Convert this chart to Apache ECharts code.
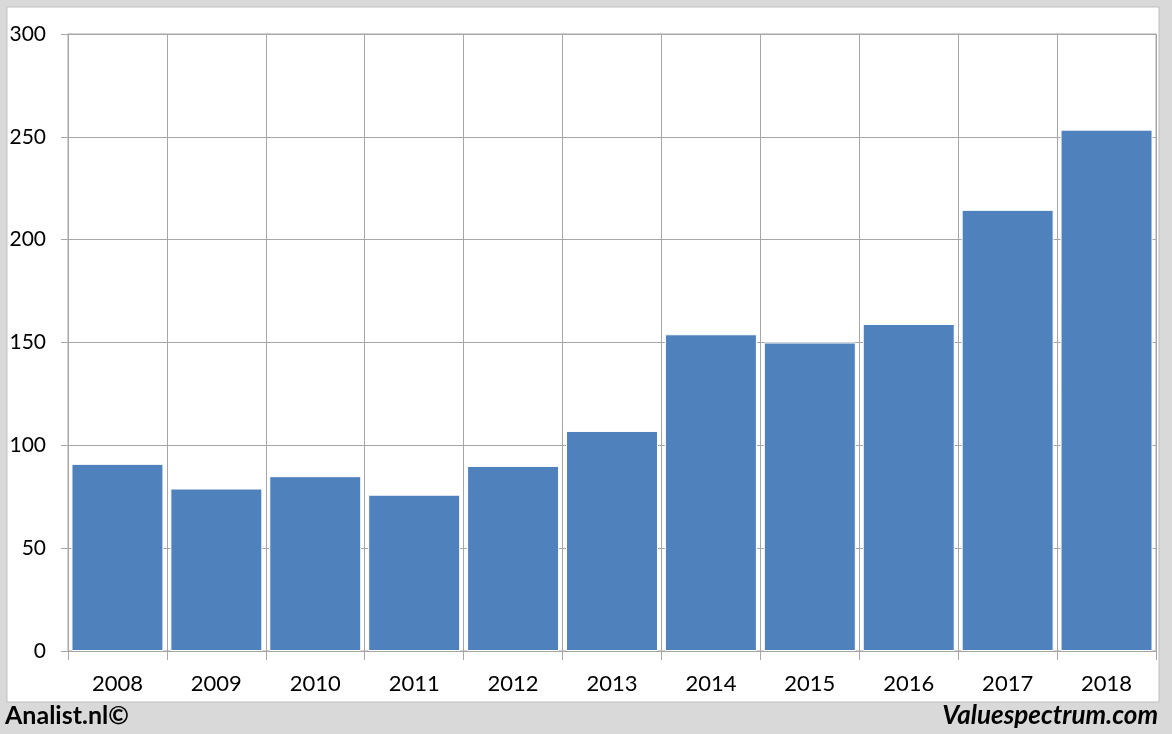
<!DOCTYPE html>
<html>
<head>
<meta charset="utf-8">
<script src="https://cdn.jsdelivr.net/npm/echarts@6/dist/echarts.min.js"></script>
<style>
html,body{margin:0;padding:0;background:#d9d9d9;}
#c{width:1172px;height:734px;}
</style>
</head>
<body>
<div id="c"></div>
<script>
const categories = ['2008','2009','2010','2011','2012','2013','2014','2015','2016','2017','2018'];
const values = [91, 79, 85, 76, 90, 107, 154, 150, 159, 214.5, 253.5];
const yTicks = { min: 0, max: 300, interval: 50 };
const footerLeft = 'Analist.nl©';
const footerRight = 'Valuespectrum.com';

const chart = echarts.init(document.getElementById('c'), null, { renderer: 'canvas' });
const gridColor = '#a6a6a6';
const font = 'Lato, "Open Sans", sans-serif';
chart.setOption({
  backgroundColor: '#d9d9d9',
  animation: false,
  graphic: [
    { type: 'rect', z: -10, shape: { x: 7, y: 7, width: 1152, height: 695 },
      style: { fill: '#ffffff', stroke: '#bfbfbf', lineWidth: 1 } },
    { type: 'text', left: 5, top: 703,
      style: { text: footerLeft, font: 'bold 25px ' + font, fill: '#000' } },
    { type: 'text', right: 14, top: 703,
      style: { text: footerRight, font: 'italic bold 26px ' + font, fill: '#000' } }
  ],
  grid: { left: 68, right: 16, top: 34, bottom: 83, show: true, borderColor: gridColor, borderWidth: 1, backgroundColor: 'transparent' },
  xAxis: {
    type: 'category',
    data: categories,
    boundaryGap: true,
    axisLine: { show: true, lineStyle: { color: gridColor } },
    axisTick: { show: true, length: 9, interval: 0, lineStyle: { color: gridColor } },
    splitLine: { show: true, interval: 0, lineStyle: { color: gridColor } },
    axisLabel: { color: '#000', fontSize: 22, fontFamily: font, margin: 22, interval: 0 }
  },
  yAxis: {
    type: 'value',
    min: yTicks.min, max: yTicks.max, interval: yTicks.interval,
    axisLine: { show: true, lineStyle: { color: gridColor } },
    axisTick: { show: true, length: 7, lineStyle: { color: gridColor } },
    splitLine: { show: true, lineStyle: { color: gridColor } },
    axisLabel: { color: '#000', fontSize: 21, fontFamily: font, margin: 22 }
  },
  series: [{
    type: 'bar',
    data: values,
    barCategoryGap: '7%',
    itemStyle: { color: '#4f81bd', borderColor: '#ffffff', borderWidth: 1 }
  }]
});
</script>
</body>
</html>
